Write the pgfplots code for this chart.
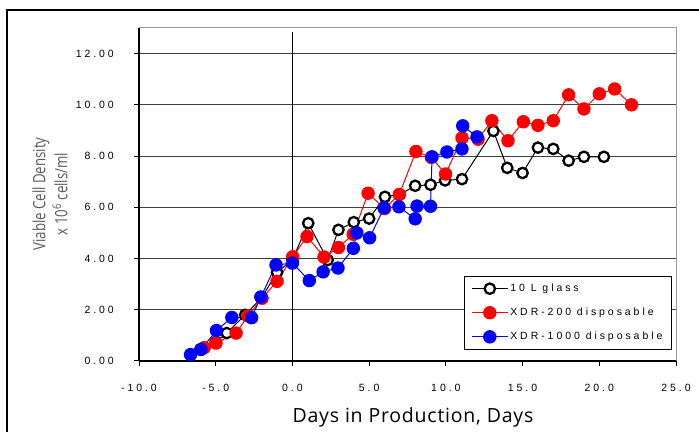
\documentclass[border=0pt]{standalone}
\usepackage{fontspec}
\usepackage{pgfplots}
\pgfplotsset{compat=1.18}
\setmainfont{Liberation Sans}
\newfontfamily\tickfont[LetterSpace=28]{Liberation Sans}
\newfontfamily\xlabfont[LetterSpace=4]{Open Sans}
\newfontfamily\ylabfont[FakeStretch=0.78]{Open Sans}
\definecolor{myred}{RGB}{255,0,0}
\definecolor{myblue}{RGB}{0,0,255}
\definecolor{gridc}{RGB}{64,64,64}
\definecolor{ylabc}{RGB}{90,90,90}

\pgfplotstableread{
x y
-6 0.45
-5 0.75
-4.28 1.09
-3.08 1.8
-2 2.48
-1.0 3.46
0 3.95
1.03 5.38
2.3 3.94
3.0 5.12
4.0 5.42
5.0 5.56
6.03 6.41
7.0 6.5
8.0 6.84
9.0 6.88
9.95 7.05
11.05 7.1
13.1 8.98
14.0 7.54
15.0 7.34
16.0 8.33
17.0 8.28
18.0 7.82
19.0 7.97
20.3 7.97
}\glass

\pgfplotstableread{
x y
-5.75 0.52
-4.98 0.7
-3.67 1.09
-2.9 1.76
-1.98 2.45
-1.0 3.11
0.02 4.07
0.95 4.86
2.06 4.06
3.0 4.43
3.96 4.95
4.93 6.55
6.0 5.95
6.96 6.5
8.05 8.18
9.05 7.95
9.98 7.3
11.05 8.71
12.1 8.66
13.0 9.38
14.05 8.6
15.05 9.34
16.0 9.2
17.0 9.38
18.0 10.39
19.0 9.84
20.0 10.43
21.0 10.62
22.1 10.0
}\xdrtwo

\pgfplotstableread{
x y
-6.64 0.25
-5.96 0.45
-4.95 1.19
-3.95 1.7
-2.66 1.69
-2.06 2.5
-1.07 3.75
0.0 3.82
1.1 3.14
2.0 3.48
2.97 3.63
3.97 4.4
4.2 5.0
5.03 4.81
5.97 5.98
6.94 6.02
8.0 5.55
8.12 6.05
9.0 6.04
9.1 7.97
10.07 8.16
11.05 8.28
11.1 9.18
12.03 8.75
}\xdrthou

\begin{document}
\begin{tikzpicture}
\useasboundingbox (0,0) rectangle (699bp,432bp);
\draw[line width=1.5bp] (7bp,-2bp) -- (7bp,422bp) -- (701bp,422bp);
\begin{axis}[
  at={(139bp,71bp)}, anchor=south west,
  scale only axis, width=537bp, height=333bp,
  xmin=-10, xmax=25, ymin=0, ymax=13,
  xtick={-10,-5,...,25},
  xticklabels={-10.0,-5.0,0.0,5.0,10.0,15.0,20.0,25.0},
  ytick={0,2,...,12},
  yticklabels={0.00,2.00,4.00,6.00,8.00,10.00,12.00},
  xtick pos=bottom, ytick pos=left, tick align=outside,
  major tick length=5bp,
  every tick/.style={black, line width=1bp},
  ymajorgrids, major grid style={gridc, line width=1bp},
  axis line style={draw=gray!80, line width=1bp},
  ticklabel style={font=\fontsize{10.5bp}{12bp}\tickfont},
  xticklabel style={anchor=north, inner sep=0pt, yshift=-18bp},
  yticklabel style={anchor=east, inner sep=0pt, xshift=-20bp},
  legend style={at={(rel axis cs:0.9926,0.033)}, anchor=south east,
    draw=black, line width=1.2bp,
    font=\fontsize{10.5bp}{12bp}\tickfont,
    row sep=11bp, inner xsep=7bp, inner ysep=6bp,
    cells={anchor=west}},
  legend image code/.code={\draw[mark repeat=2, mark phase=2, #1] plot coordinates {(0bp,0bp) (18bp,0bp) (36bp,0bp)};},
  clip=false,
]
\draw[black, line width=1.2bp] (axis cs:-10,0) -- (axis cs:25,0);
\draw[black, line width=1.2bp] (axis cs:-10,0) -- (axis cs:-10,13);
\draw[black, line width=1bp] (axis cs:0,0) -- (axis cs:0,12.85);
\addplot[black, line width=1bp, mark=*, mark size=5.2bp,
  mark options={line width=2.3bp, draw=black, fill=white}] table[x=x,y=y] {\glass};
\addlegendentry{10 L glass}
\addplot[myred, line width=1bp, mark=*, mark size=6.2bp,
  mark options={draw=myred, fill=myred}] table[x=x,y=y] {\xdrtwo};
\addlegendentry{XDR-200 disposable}
\addplot[myblue, line width=1bp, mark=*, mark size=6.2bp,
  mark options={draw=myblue, fill=myblue}] table[x=x,y=y] {\xdrthou};
\addlegendentry{XDR-1000 disposable}
\end{axis}
\node[font=\fontsize{19.5bp}{22bp}\xlabfont, anchor=center] at (413bp,15bp) {Days in Production, Days};
\node[font=\fontsize{17bp}{22bp}\ylabfont, text=ylabc, rotate=90, align=center, anchor=center] at (50bp,238bp) {Viable Cell Density\\x 10\textsuperscript{6} cells/ml};
\end{tikzpicture}
\end{document}
